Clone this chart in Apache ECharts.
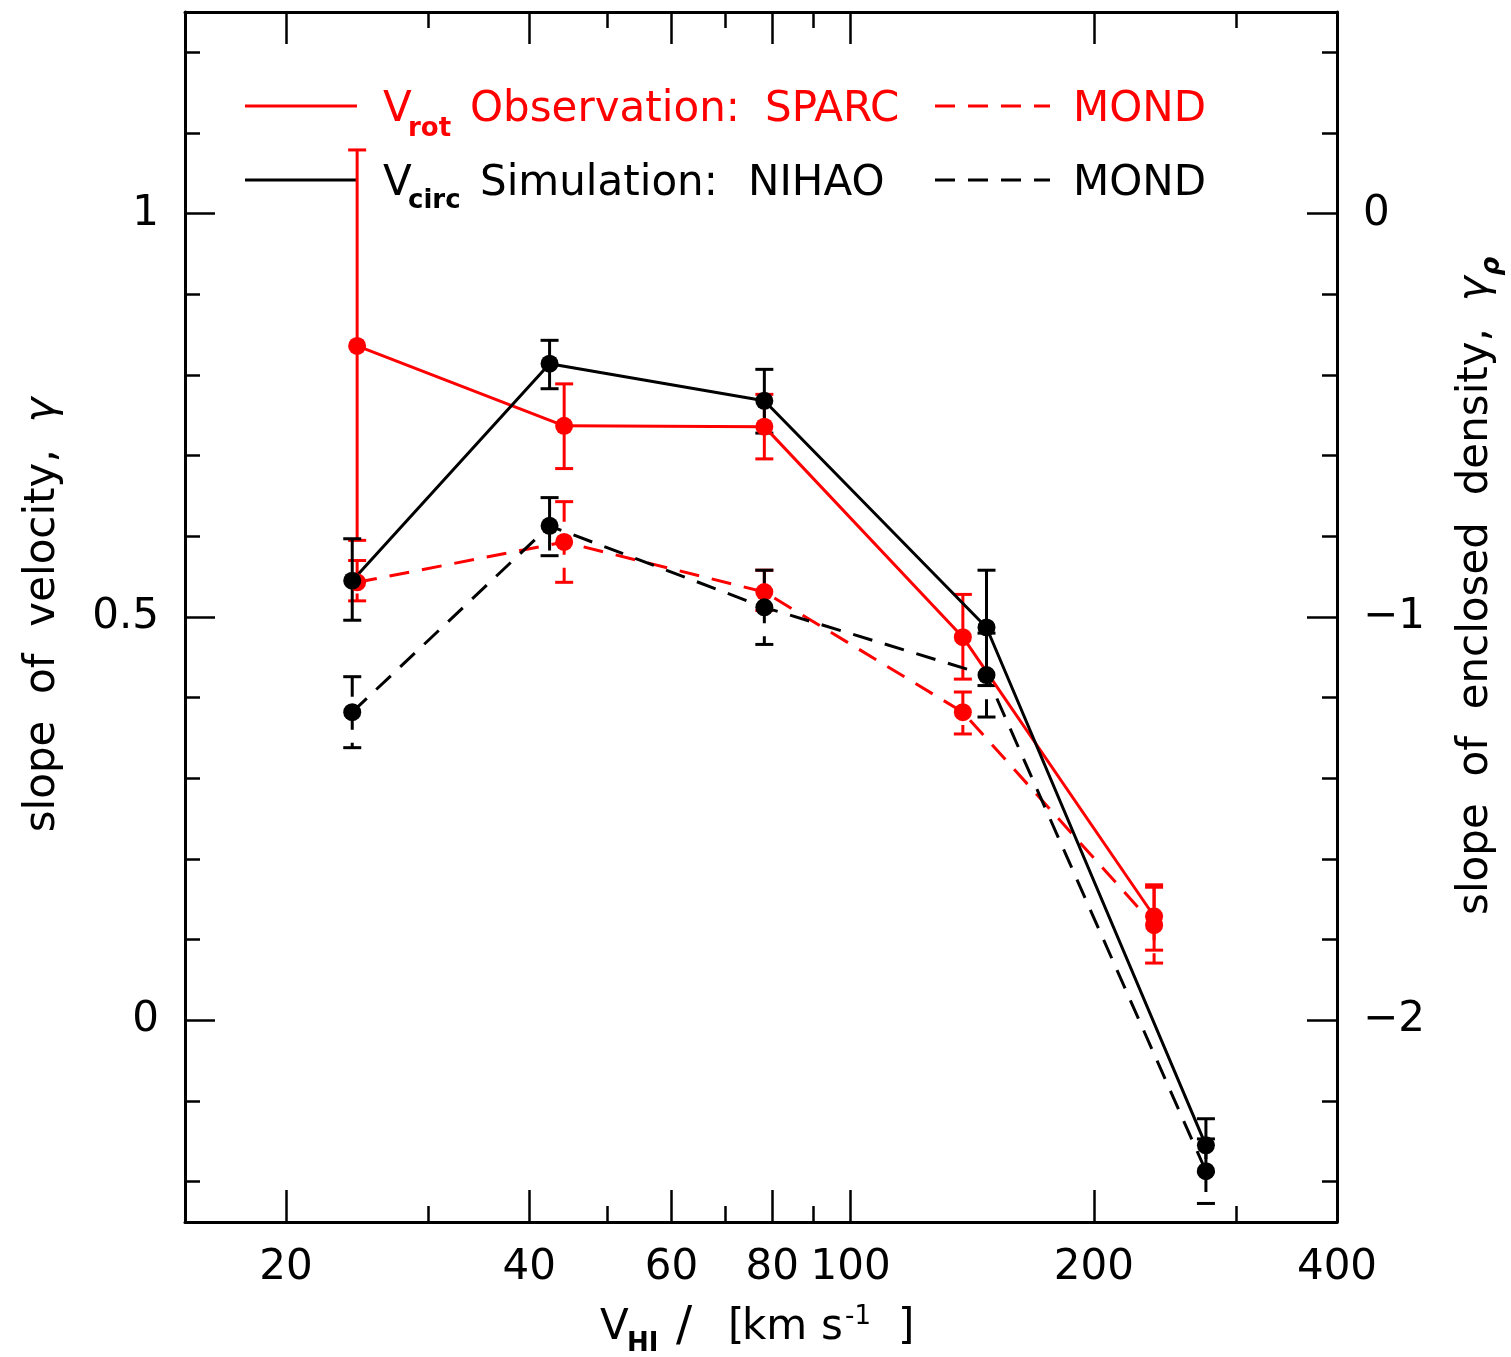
<!DOCTYPE html>
<html><head><meta charset="utf-8">
<script src="https://cdn.jsdelivr.net/npm/echarts@6/dist/echarts.min.js"></script>
<style>html,body{margin:0;padding:0;background:#fff}#c{width:1511px;height:1357px}</style>
</head><body><div id="c"></div>
<script>
// ---------------- data ----------------
const vSparc       = [24.5, 44.2, 78.2, 137.7, 237.5];          // V_HI [km/s]
const gSparc       = [0.836, 0.737, 0.736, 0.475, 0.129];
const gSparcLo     = [0.595, 0.684, 0.696, 0.423, 0.087];
const gSparcHi     = [1.079, 0.789, 0.776, 0.528, 0.168];
const gSparcMond   = [0.543, 0.593, 0.531, 0.382, 0.118];
const gSparcMondLo = [0.520, 0.543, 0.508, 0.355, 0.071];
const gSparcMondHi = [0.570, 0.643, 0.558, 0.407, 0.165];

const vNihao       = [24.16, 42.4, 78.2, 147.3, 275.3];
const gNihao       = [0.545, 0.814, 0.768, 0.487, -0.155];
const gNihaoLo     = [0.496, 0.783, 0.728, 0.415, -0.188];
const gNihaoHi     = [0.597, 0.843, 0.807, 0.558, -0.122];
const gNihaoMond   = [0.382, 0.613, 0.512, 0.428, -0.187];
const gNihaoMondLo = [0.338, 0.576, 0.466, 0.376, -0.227];
const gNihaoMondHi = [0.426, 0.648, 0.558, 0.480, -0.147];

const xMajorTicks = [20, 40, 60, 80, 100, 200, 400];
const xMinorTicks = [30, 50, 70, 90, 300];
const yMajorTicks = [0, 0.5, 1];
const yMinorTicks = [-0.2, -0.1, 0.1, 0.2, 0.3, 0.4, 0.6, 0.7, 0.8, 0.9, 1.1, 1.2];
const rMajorTicks = [-2, -1, 0];
const rMinorTicks = [-2.4, -2.2, -1.8, -1.6, -1.4, -1.2, -0.8, -0.6, -0.4, -0.2, 0.2, 0.4];
const xRange = [15, 400];
const yRange = [-0.25, 1.25];
const rRange = [-2.5, 0.5];

// ---------------- helpers ----------------
const FONT = 'DejaVu Sans';
const RED = '#ff0000', BLACK = '#000000';
const L = Math.log10;
const ctx = document.createElement('canvas').getContext('2d');
function tw(text, size, weight, style) {
  ctx.font = (style || 'normal') + ' ' + (weight || 'normal') + ' ' + size + 'px "' + FONT + '"';
  return ctx.measureText(text).width;
}
const fmtMinus = v => (v < 0 ? '\u2212' + Math.abs(v) : String(v));

function xAxis(pos, ticks, len, main) {
  return {
    type: 'value', position: pos, min: L(xRange[0]), max: L(xRange[1]),
    axisLine: { show: main, onZero: false, lineStyle: { color: BLACK, width: 3 } },
    splitLine: { show: false },
    axisTick: { show: true, inside: true, length: len, lineStyle: { color: BLACK, width: 2.5 }, customValues: ticks.map(L) },
    axisLabel: (main && pos === 'bottom') ? {
      show: true, customValues: ticks.map(L), formatter: v => String(Math.round(Math.pow(10, v))),
      fontFamily: FONT, fontSize: 42, color: BLACK, margin: 25
    } : { show: false }
  };
}
function yAxis(pos, range, ticks, len, main, label) {
  return {
    type: 'value', position: pos, min: range[0], max: range[1],
    axisLine: { show: main, onZero: false, lineStyle: { color: BLACK, width: 3 } },
    splitLine: { show: false },
    axisTick: { show: true, inside: true, length: len, lineStyle: { color: BLACK, width: 2.5 }, customValues: ticks },
    axisLabel: label ? {
      show: true, customValues: ticks, formatter: fmtMinus,
      fontFamily: FONT, fontSize: 42, color: BLACK, margin: 26
    } : { show: false }
  };
}

function errSeries(vs, lo, hi, color, dashed) {
  return {
    type: 'custom', xAxisIndex: 0, yAxisIndex: 0, silent: true, z: 3,
    data: vs.map((v, i) => [L(v), lo[i], hi[i]]),
    encode: { x: 0, y: [1, 2] },
    renderItem: function (params, api) {
      const x = api.value(0);
      const p1 = api.coord([x, api.value(1)]);
      const p2 = api.coord([x, api.value(2)]);
      const hw = 9;
      const capStyle = { stroke: color, lineWidth: 3 };
      return {
        type: 'group', children: [
          { type: 'line', shape: { x1: p2[0], y1: p2[1], x2: p1[0], y2: p1[1] },
            style: { stroke: color, lineWidth: 3, lineDash: dashed ? [20, 13] : null } },
          { type: 'line', shape: { x1: p1[0] - hw, y1: p1[1], x2: p1[0] + hw, y2: p1[1] }, style: capStyle },
          { type: 'line', shape: { x1: p2[0] - hw, y1: p2[1], x2: p2[0] + hw, y2: p2[1] }, style: capStyle }
        ]
      };
    }
  };
}
function lineSeries(name, vs, gs, color, dashed) {
  return {
    name: name, type: 'line', xAxisIndex: 0, yAxisIndex: 0, z: 4,
    data: vs.map((v, i) => [L(v), gs[i]]),
    symbol: 'circle', symbolSize: 18, showSymbol: true,
    itemStyle: { color: color },
    lineStyle: { color: color, width: 3, type: dashed ? [20, 13] : 'solid' },
    emphasis: { disabled: true }
  };
}

// ---------------- graphic: legend + axis titles ----------------
const F = 42, FS = 26;
function txt(x, y, text, opts) {
  opts = opts || {};
  return {
    type: 'text', x: x, y: y, silent: true,
    style: {
      text: text, fill: opts.fill || BLACK, fontFamily: FONT, fontSize: opts.size || F,
      fontWeight: opts.weight || 'normal', fontStyle: opts.style || 'normal',
      textAlign: opts.align || 'left', align: opts.align || 'left',
      textVerticalAlign: 'middle', verticalAlign: 'middle'
    }
  };
}
function seg(x1, x2, y, color, dashed) {
  return { type: 'line', silent: true, shape: { x1: x1, y1: y, x2: x2, y2: y },
           style: { stroke: color, lineWidth: 3, lineDash: dashed ? [20, 13] : null } };
}

const leftTitleMain = 'slope  of  velocity,  ';
const leftW = tw(leftTitleMain, F) + tw('\u03b3', F, 'normal', 'italic');
const rightTitleMain = 'slope  of  enclosed  density,  ';
const rightMainW = tw(rightTitleMain, F);
const gammaW = tw('\u03b3', F, 'normal', 'italic');

const graphics = [
  // legend row 1
  seg(245, 357, 106, RED, false),
  txt(383, 110, 'V', { fill: RED }),
  txt(408, 129, 'rot', { fill: RED, size: FS, weight: 'bold' }),
  txt(470, 110, 'Observation:', { fill: RED }),
  txt(765, 110, 'SPARC', { fill: RED }),
  seg(935, 1050, 106, RED, true),
  txt(1073, 110, 'MOND', { fill: RED }),
  // legend row 2
  seg(245, 357, 180, BLACK, false),
  txt(383, 184, 'V', {}),
  txt(408, 201, 'circ', { size: FS, weight: 'bold' }),
  txt(480, 184, 'Simulation:', {}),
  txt(748, 184, 'NIHAO', {}),
  seg(935, 1050, 180, BLACK, true),
  txt(1073, 184, 'MOND', {}),
  // x title
  txt(600, 1328, 'V', {}),
  txt(627, 1344, 'HI', { size: FS, weight: 'bold' }),
  txt(676, 1328, '/', { size: 48 }),
  txt(728, 1328, '[', {}),
  txt(742, 1328, 'km', {}),
  txt(821, 1328, 's', {}),
  txt(845, 1317, '-1', { size: FS }),
  txt(898, 1328, ']', {}),
  // left title (rotated)
  {
    type: 'group', x: 43, y: 615, rotation: Math.PI / 2, silent: true,
    children: [
      txt(-leftW / 2, 0, leftTitleMain, {}),
      txt(-leftW / 2 + tw(leftTitleMain, F), 0, '\u03b3', { style: 'italic' })
    ]
  },
  // right title (rotated)
  {
    type: 'group', x: 1476, y: 915, rotation: Math.PI / 2, silent: true,
    children: [
      txt(0, 0, rightTitleMain, {}),
      txt(rightMainW, 0, '\u03b3', { style: 'italic' }),
      txt(rightMainW + gammaW + 1, 16, '\u03c1', { size: FS, weight: 'bold', style: 'italic' })
    ]
  }
];

const option = {
  animation: false,
  backgroundColor: '#ffffff',
  grid: { left: 185, right: 174, top: 12, bottom: 135, containLabel: false },
  xAxis: [
    xAxis('bottom', xMajorTicks, 32, true),
    xAxis('bottom', xMinorTicks, 16, false),
    xAxis('top', xMajorTicks, 32, true),
    xAxis('top', xMinorTicks, 16, false)
  ],
  yAxis: [
    yAxis('left', yRange, yMajorTicks, 30, true, true),
    yAxis('left', yRange, yMinorTicks, 15, false, false),
    yAxis('right', rRange, rMajorTicks, 30, true, true),
    yAxis('right', rRange, rMinorTicks, 15, false, false)
  ],
  series: [
    errSeries(vSparc, gSparcLo, gSparcHi, RED, false),
    lineSeries('SPARC', vSparc, gSparc, RED, false),
    errSeries(vSparc, gSparcMondLo, gSparcMondHi, RED, true),
    lineSeries('SPARC MOND', vSparc, gSparcMond, RED, true),
    errSeries(vNihao, gNihaoLo, gNihaoHi, BLACK, false),
    lineSeries('NIHAO', vNihao, gNihao, BLACK, false),
    errSeries(vNihao, gNihaoMondLo, gNihaoMondHi, BLACK, true),
    lineSeries('NIHAO MOND', vNihao, gNihaoMond, BLACK, true)
  ],
  graphic: graphics
};

const chart = echarts.init(document.getElementById('c'), null, { renderer: 'canvas' });
chart.setOption(option);
</script>
</body></html>
